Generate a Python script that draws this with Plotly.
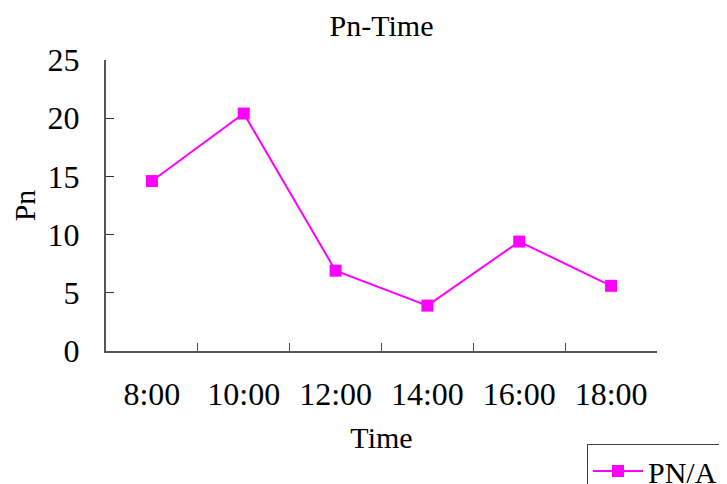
import plotly.graph_objects as go

times = ["8:00", "10:00", "12:00", "14:00", "16:00", "18:00"]
pn_values = [14.6, 20.4, 6.9, 3.9, 9.4, 5.6]
y_ticks = [0, 5, 10, 15, 20, 25]

FONT = "Liberation Serif"

fig = go.Figure()
fig.add_trace(go.Scatter(
    x=times, y=pn_values, mode="lines+markers", name="PN/A",
    line=dict(color="#FF00FF", width=2),
    marker=dict(symbol="square", size=12, color="#FF00FF"),
))

fig.update_layout(
    width=727, height=484,
    paper_bgcolor="white", plot_bgcolor="white",
    margin=dict(l=98, r=78, t=52, b=141, autoexpand=False),
    font=dict(family=FONT, size=32, color="black"),
    title=dict(text="Pn-Time", x=0.5, xanchor="center", xref="paper",
               y=1 - 17 / 484, yanchor="middle", yref="container",
               font=dict(family=FONT, size=30, color="black")),
    showlegend=True,
    legend=dict(x=(579 - 98) / 551, xanchor="left", y=(343 - 436) / 291, yanchor="top",
                bordercolor="#404040", borderwidth=1, bgcolor="white",
                font=dict(family=FONT, size=30), itemwidth=50),
    xaxis=dict(
        type="category", showline=True, linecolor="#555555", linewidth=2,
        ticks="inside", tickson="boundaries", ticklen=8, tickcolor="#555555", tickwidth=1,
        showgrid=False, zeroline=False, ticklabelstandoff=14,
        title=dict(text="Time", standoff=16, font=dict(family=FONT, size=30)),
        range=[-0.5, 5.5],
    ),
    yaxis=dict(
        range=[0, 25], tickvals=y_ticks, showline=True, linecolor="#555555", linewidth=2,
        ticks="inside", ticklen=8, tickcolor="#333333", tickwidth=1,
        showgrid=False, zeroline=False, ticklabelstandoff=18,
        title=dict(text="Pn", standoff=16, font=dict(family=FONT, size=30)),
    ),
)

fig.write_html("out.html")
